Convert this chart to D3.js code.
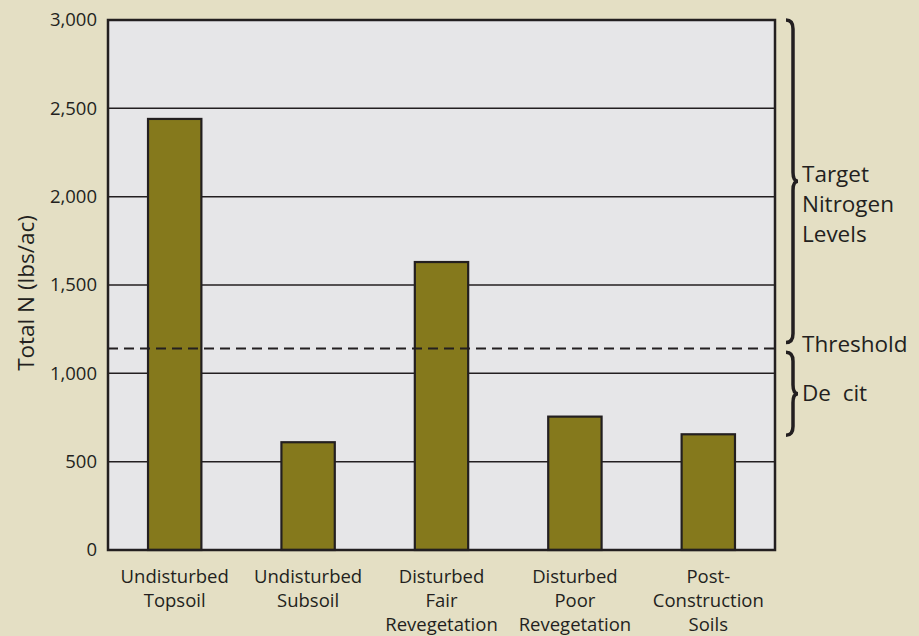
<!DOCTYPE html>
<html>
<head>
<meta charset="utf-8">
<script src="https://cdn.jsdelivr.net/npm/d3@7"></script>
<style>
  body { margin: 0; background: #e4dfc4; }
  svg { display: block; font-family: "Open Sans", sans-serif; }
</style>
</head>
<body>
<script>
const w = 919;
const h = 636;

// data
const categories = [
  ['Undisturbed', 'Topsoil'],
  ['Undisturbed', 'Subsoil'],
  ['Disturbed', 'Fair', 'Revegetation'],
  ['Disturbed', 'Poor', 'Revegetation'],
  ['Post-', 'Construction', 'Soils']
];
const values = [2440, 610, 1630, 755, 655];
const yTicks = [0, 500, 1000, 1500, 2000, 2500, 3000];
const threshold = 1140;
const targetRange = [3000, 1175];
const deficitRange = [1120, 650];

const m = { top: 20, right: 144, bottom: 86, left: 108 };

const svg = d3.select('body').append('svg')
  .attr('width', w)
  .attr('height', h);

const x = d3.scaleBand()
  .domain(d3.range(categories.length))
  .range([m.left, w - m.right])
  .paddingInner(0.6)
  .paddingOuter(0.3);

const y = d3.scaleLinear()
  .domain([0, 3000])
  .range([h - m.bottom, m.top]);

// plot area
svg.append('rect')
  .attr('x', m.left)
  .attr('y', m.top)
  .attr('width', w - m.right - m.left)
  .attr('height', h - m.bottom - m.top)
  .attr('fill', '#e6e6e8');

// gridlines
svg.append('g')
  .selectAll('line')
  .data(yTicks.filter(d => d > 0 && d < 3000))
  .enter()
  .append('line')
  .attr('x1', m.left)
  .attr('x2', w - m.right)
  .attr('y1', d => y(d))
  .attr('y2', d => y(d))
  .attr('stroke', '#231f20')
  .attr('stroke-width', 1.5);

// bars
svg.append('g')
  .selectAll('rect')
  .data(values)
  .enter()
  .append('rect')
  .attr('x', (d, i) => x(i))
  .attr('y', d => y(d))
  .attr('width', x.bandwidth())
  .attr('height', d => y(0) - y(d))
  .attr('fill', '#85791c')
  .attr('stroke', '#231f20')
  .attr('stroke-width', 2.2);

// frame
svg.append('rect')
  .attr('x', m.left)
  .attr('y', m.top)
  .attr('width', w - m.right - m.left)
  .attr('height', h - m.bottom - m.top)
  .attr('fill', 'none')
  .attr('stroke', '#231f20')
  .attr('stroke-width', 2.5);

// y tick labels
const yAxis = svg.append('g')
  .attr('transform', `translate(${m.left},0)`)
  .call(d3.axisLeft(y).tickValues(yTicks).tickSize(0).tickPadding(11).tickFormat(d3.format(',')));
yAxis.select('.domain').remove();
yAxis.selectAll('text')
  .attr('font-size', 18.5)
  .attr('fill', '#231f20')
  .style('font-family', '"Open Sans", sans-serif');

// y title
svg.append('text')
  .attr('transform', `translate(34,${(m.top + h - m.bottom) / 2 + 8}) rotate(-90)`)
  .attr('text-anchor', 'middle')
  .attr('font-size', 22.5)
  .attr('fill', '#231f20')
  .text('Total N (lbs/ac)');

// x labels
const xl = svg.append('g')
  .selectAll('text')
  .data(categories)
  .enter()
  .append('text')
  .attr('x', (d, i) => x(i) + x.bandwidth() / 2)
  .attr('y', h - m.bottom + 33)
  .attr('text-anchor', 'middle')
  .attr('font-size', 18.5)
  .attr('fill', '#231f20');
xl.selectAll('tspan')
  .data(d => d)
  .enter()
  .append('tspan')
  .attr('x', function () { return this.parentNode.getAttribute('x'); })
  .attr('dy', (d, i) => i === 0 ? 0 : 24)
  .text(d => d);

// threshold line
svg.append('line')
  .attr('x1', m.left)
  .attr('x2', w - m.right + 4)
  .attr('y1', y(threshold))
  .attr('y2', y(threshold))
  .attr('stroke', '#231f20')
  .attr('stroke-width', 2)
  .attr('stroke-dasharray', '10,6');

// braces
function brace(y0, y1, xb) {
  const mid = (y0 + y1) / 2;
  const r = 6;
  return `M${xb - 6},${y0} Q${xb + 1},${y0} ${xb + 1},${y0 + r * 1.5}
    L${xb + 1},${mid - r * 1.5} Q${xb + 1},${mid} ${xb + 6},${mid}
    Q${xb + 1},${mid} ${xb + 1},${mid + r * 1.5}
    L${xb + 1},${y1 - r * 1.5} Q${xb + 1},${y1} ${xb - 6},${y1}`;
}
svg.append('path')
  .attr('d', brace(y(targetRange[0]), y(targetRange[1]), 792))
  .attr('fill', 'none')
  .attr('stroke', '#231f20')
  .attr('stroke-width', 3.5);
svg.append('path')
  .attr('d', brace(y(deficitRange[0]), y(deficitRange[1]), 792))
  .attr('fill', 'none')
  .attr('stroke', '#231f20')
  .attr('stroke-width', 3.5);

// right labels
const rightLabels = [
  { t: 'Target', v: 2130 },
  { t: 'Nitrogen', v: 1960 },
  { t: 'Levels', v: 1790 },
  { t: 'Threshold', v: 1165 },
  { t: 'De  cit', v: 890 }
];
svg.append('g')
  .selectAll('text')
  .data(rightLabels)
  .enter()
  .append('text')
  .attr('x', 802)
  .attr('y', d => y(d.v))
  .attr('dy', '0.35em')
  .attr('font-size', 22.5)
  .attr('fill', '#231f20')
  .style('white-space', 'pre')
  .text(d => d.t);
</script>
</body>
</html>
